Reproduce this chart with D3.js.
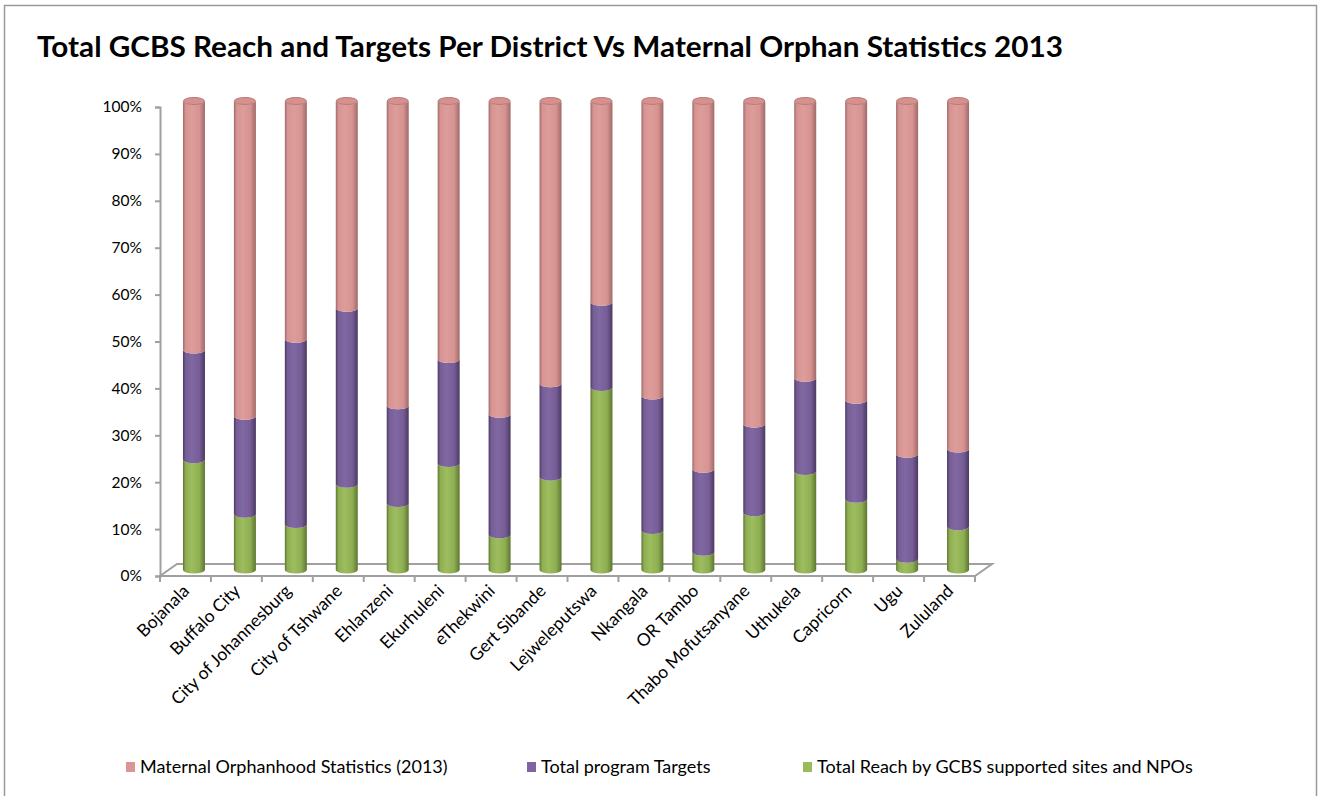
<!DOCTYPE html>
<html>
<head>
<meta charset="utf-8">
<script src="https://cdn.jsdelivr.net/npm/d3@7"></script>
<style>
  body { margin: 0; background: #fff; }
  svg text { font-family: Lato, "Open Sans", sans-serif; fill: #000; }
</style>
</head>
<body>
<svg id="chart" width="1323" height="796"></svg>
<script>
// chart values (percent of each district's column)
var districts = ["Bojanala", "Buffalo City", "City of Johannesburg", "City of Tshwane", "Ehlanzeni",
  "Ekurhuleni", "eThekwini", "Gert Sibande", "Lejweleputswa", "Nkangala", "OR Tambo",
  "Thabo Mofutsanyane", "Uthukela", "Capricorn", "Ugu", "Zululand"];
var reach   = [23.5, 11.9, 9.7, 18.3, 14.2, 22.7, 7.5, 19.8, 38.9, 8.4, 3.8, 12.2, 21.0, 15.1, 2.3, 9.2];
var targets = [23.4, 20.9, 39.5, 37.5, 20.8, 22.2, 25.7, 19.9, 18.2, 28.7, 17.7, 18.9, 19.9, 21.1, 22.4, 16.6];
var orphans = [53.1, 67.2, 50.8, 44.2, 65.0, 55.1, 66.8, 60.3, 42.9, 62.9, 78.5, 68.9, 59.1, 63.8, 75.3, 74.2];
var yTicks = [0, 10, 20, 30, 40, 50, 60, 70, 80, 90, 100];

var seriesNames = ["Total Reach by GCBS supported sites and NPOs", "Total program Targets", "Maternal Orphanhood Statistics (2013)"];
var seriesKeys = ["reach", "targets", "orphans"];
var titleText = "Total GCBS Reach and Targets Per District Vs Maternal Orphan Statistics 2013";

var rows = districts.map(function(d, i) {
  return {district: d, reach: reach[i], targets: targets[i], orphans: orphans[i]};
});

// colours: [edge, body, highlight]
var shades = {
  reach:   ["#5d7631", "#8eae52", "#9dbd5f"],
  targets: ["#4a3a62", "#765d96", "#8068a2"],
  orphans: ["#a06a69", "#d69391", "#dd9d9b"]
};
var legendColor = {reach: "#9bbb59", targets: "#8064a2", orphans: "#d99694"};

var svg = d3.select("#chart");

// outer frame
svg.append("rect")
  .attr("x", 4.5).attr("y", 5.5)
  .attr("width", 1312).attr("height", 800)
  .attr("fill", "none")
  .attr("stroke", "#9a9a9a")
  .attr("stroke-width", 1.5);

svg.append("text")
  .attr("x", 37).attr("y", 57)
  .attr("font-size", 28)
  .attr("font-weight", "bold")
  .attr("textLength", 1026)
  .attr("lengthAdjust", "spacingAndGlyphs")
  .text(titleText);

var x0 = 160, x1 = 975, yBase = 576, yTop = 107;
var depth = {dx: 17, dy: -12};
var barOff = {dx: depth.dx / 2, dy: depth.dy / 2};
var barW = 22, ry = 3.5;

var x = d3.scaleBand().domain(districts).range([x0, x1]);
var y = d3.scaleLinear().domain([0, 1]).range([yBase, yTop]);
var yPct = d3.scaleLinear().domain([0, 100]).range([yBase, yTop]);

// gradients for the cylinders
var defs = svg.append("defs");
seriesKeys.forEach(function(k) {
  var s = shades[k];
  var g = defs.append("linearGradient").attr("id", "grad-" + k)
    .attr("x1", "0%").attr("x2", "100%").attr("y1", "0%").attr("y2", "0%");
  [[0, s[0]], [0.12, s[1]], [0.4, s[2]], [0.75, s[1]], [1, s[0]]].forEach(function(st) {
    g.append("stop").attr("offset", st[0]).attr("stop-color", st[1]);
  });
});

// floor
var floor = svg.append("g").attr("stroke", "#a0a0a0").attr("stroke-width", 2).attr("fill", "none");
floor.append("path")
  .attr("d", "M" + x0 + "," + yBase + "L" + x1 + "," + yBase +
             "L" + (x1 + depth.dx) + "," + (yBase + depth.dy) +
             "L" + (x0 + depth.dx) + "," + (yBase + depth.dy) + "Z")
  .attr("fill", "#fff");

// y axis
var yAxis = d3.axisLeft(yPct)
  .tickValues(yTicks)
  .tickSize(5)
  .tickPadding(13)
  .tickFormat(function(d) { return d + "%"; });

var yg = svg.append("g")
  .attr("transform", "translate(" + x0 + ",0)")
  .call(yAxis);
yg.select(".domain").attr("stroke", "#a0a0a0").attr("stroke-width", 2);
yg.selectAll(".tick line").attr("stroke", "#a0a0a0").attr("stroke-width", 2);
yg.selectAll(".tick text").attr("font-size", 15.5).attr("font-family", "Lato").attr("fill", "#000");

// x axis ticks at band edges
var edges = districts.map(function(d) { return x(d); }).concat([x1]);
svg.append("g").selectAll("line")
  .data(edges)
  .enter().append("line")
  .attr("x1", function(d) { return d; }).attr("x2", function(d) { return d; })
  .attr("y1", yBase).attr("y2", yBase + 6)
  .attr("stroke", "#a0a0a0").attr("stroke-width", 2);

// category labels
svg.append("g").selectAll("text")
  .data(districts)
  .enter().append("text")
  .attr("transform", function(d) {
    return "translate(" + (x(d) + x.bandwidth() / 2 + 5) + "," + (yBase + 16) + ") rotate(-45)";
  })
  .attr("text-anchor", "end")
  .attr("font-size", 17.5)
  .text(function(d) { return d; });

// stacked cylinders
var stack = d3.stack().keys(seriesKeys).offset(d3.stackOffsetExpand);
var layers = stack(rows);

function segPath(xl, w, yt, yb) {
  var rx = w / 2;
  return "M" + xl + "," + yt +
    "A" + rx + "," + ry + " 0 0 0 " + (xl + w) + "," + yt +
    "L" + (xl + w) + "," + yb +
    "A" + rx + "," + ry + " 0 0 1 " + xl + "," + yb + "Z";
}

function barLeft(d) { return x(d.data.district) + x.bandwidth() / 2 - barW / 2 + barOff.dx; }

layers.forEach(function(layer) {
  svg.append("g").selectAll("path")
    .data(layer)
    .enter().append("path")
    .attr("d", function(d) {
      return segPath(barLeft(d), barW, y(d[1]) + barOff.dy, y(d[0]) + barOff.dy);
    })
    .attr("fill", "url(#grad-" + layer.key + ")");
});

// top caps
var topLayer = layers[layers.length - 1];
svg.append("g").selectAll("ellipse")
  .data(topLayer)
  .enter().append("ellipse")
  .attr("cx", function(d) { return barLeft(d) + barW / 2; })
  .attr("cy", function(d) { return y(d[1]) + barOff.dy; })
  .attr("rx", barW / 2 - 0.5)
  .attr("ry", ry)
  .attr("fill", "#d7908e")
  .attr("stroke", "#b37a79")
  .attr("stroke-width", 1);

// legend
var legendItems = [
  {key: "orphans", label: seriesNames[2], x: 126},
  {key: "targets", label: seriesNames[1], x: 527},
  {key: "reach", label: seriesNames[0], x: 803}
];
var lg = svg.append("g").selectAll("g")
  .data(legendItems)
  .enter().append("g")
  .attr("transform", function(d) { return "translate(" + d.x + ",762)"; });
lg.append("rect")
  .attr("width", 9).attr("height", 10)
  .attr("fill", function(d) { return legendColor[d.key]; });
lg.append("text")
  .attr("x", 14).attr("y", 11)
  .attr("font-size", 18)
  .text(function(d) { return d.label; });
</script>
</body>
</html>
